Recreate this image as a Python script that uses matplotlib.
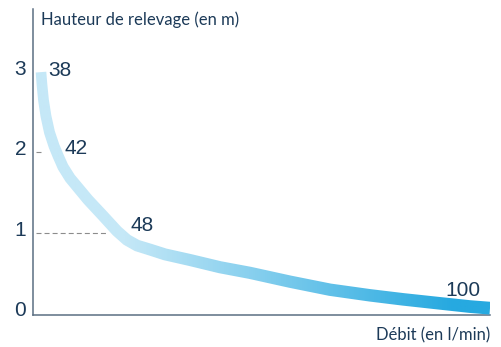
import numpy as np
import matplotlib
matplotlib.use("Agg")
import matplotlib.pyplot as plt
from matplotlib.colors import LinearSegmentedColormap
from matplotlib.patches import Polygon
from matplotlib.transforms import ScaledTranslation

plt.rcParams["lines.scale_dashes"] = False

# Pump curve: position along the flow axis (% of axis length) and lift height (m)
curve_pos = [1.75, 1.97, 2.30, 2.84, 3.61, 4.60, 5.47, 6.56, 8.10, 9.85, 12.04,
             15.32, 18.38, 20.57, 22.76, 25.60, 28.88, 34.35, 40.92, 47.48,
             56.24, 64.99, 73.74, 80.96, 89.06, 95.62, 100.0]
curve_height = [3.00, 2.84, 2.65, 2.45, 2.25, 2.08, 1.96, 1.82, 1.68, 1.56, 1.41,
                1.21, 1.02, 0.91, 0.84, 0.79, 0.73, 0.66, 0.57, 0.50,
                0.39, 0.29, 0.22, 0.17, 0.12, 0.08, 0.06]

# Flow rate (l/min) reached at each lift height
flow_values = ["38", "42", "48", "100"]
flow_label_x = [5.91, 9.41, 23.85, 94.09]
flow_label_y = [2.95, 1.98, 1.02, 0.21]

height_ticks = [0, 1, 2, 3]
height_tick_labels = ["0", "1", "2", "3"]

# Guide lines from the height axis to the curve
guide_heights = [2, 1]
guide_end = [2.19, 16.2]

TEXT = "#1c3a58"
AXIS = "#5b6f82"
light = "#c5e8f7"
dark = "#26a9e0"

fig = plt.figure(figsize=(5.01, 3.47), dpi=100)
ax = fig.add_axes([33 / 501, (347 - 315) / 347, (490 - 33) / 501, (315 - 9) / 347])
xlim = (0, 100)
ylim = (-0.025, 3.786)
ax.set_xlim(*xlim)
ax.set_ylim(*ylim)

for side in ("top", "right"):
    ax.spines[side].set_visible(False)
for side in ("left", "bottom"):
    ax.spines[side].set_color(AXIS)
    ax.spines[side].set_linewidth(1.1)

ax.set_xticks([])
ax.set_yticks(height_ticks)
ax.set_yticklabels(height_tick_labels, fontsize=15, color=TEXT,
                   family="Liberation Sans")
ax.tick_params(axis="y", length=0, pad=5)
lift = ScaledTranslation(0, 4.5 / 100, fig.dpi_scale_trans)
for lbl in ax.get_yticklabels():
    lbl.set_transform(lbl.get_transform() + lift)

# dashed guides
for h, xe in zip(guide_heights, guide_end):
    ax.plot([0.66, xe], [h, h], color="#8c8c8c", lw=0.8,
            linestyle=(0, (3.6, 2.2)), zorder=2)

# Outline of the thick stroke, built in pixel space so the width is even
pts = np.column_stack([curve_pos, curve_height])
disp = ax.transData.transform(pts)
tang = np.empty_like(disp)
tang[1:-1] = disp[2:] - disp[:-2]
tang[0] = disp[1] - disp[0]
tang[-1] = disp[-1] - disp[-2]
tang /= np.linalg.norm(tang, axis=1, keepdims=True)
normal = np.column_stack([-tang[:, 1], tang[:, 0]])
half_w = np.linspace(5.3, 6.4, len(disp))[:, None]
outline_px = np.vstack([disp + normal * half_w, (disp - normal * half_w)[::-1]])
outline = ax.transData.inverted().transform(outline_px)
band = Polygon(outline, closed=True, transform=ax.transData,
               facecolor="none", edgecolor="none")
ax.add_patch(band)

# light-to-dark gradient along the flow axis, clipped to the stroke
cmap = LinearSegmentedColormap.from_list(
    "flow", [(0.0, light), (0.2, light), (0.92, dark), (1.0, dark)])
grad = cmap(np.linspace(0, 1, 512))[None, :, :]
img = ax.imshow(grad, extent=(xlim[0], xlim[1], ylim[0], ylim[1]),
                aspect="auto", origin="lower", interpolation="bilinear",
                zorder=3)
img.set_clip_path(band)

for txt, x, y in zip(flow_values, flow_label_x, flow_label_y):
    ax.text(x, y, txt, ha="center", va="baseline", fontsize=15, color=TEXT,
            family="Liberation Sans", zorder=4)

fig.text(41 / 501, 1 - 24.5 / 347, "Hauteur de relevage (en m)", fontsize=12,
         color=TEXT, family="Lato", ha="left", va="baseline")
fig.text(490 / 501, 1 - 340 / 347, "Débit (en l/min)", fontsize=12,
         color=TEXT, family="Lato", ha="right", va="baseline")

fig.savefig("out.png", dpi=100)
